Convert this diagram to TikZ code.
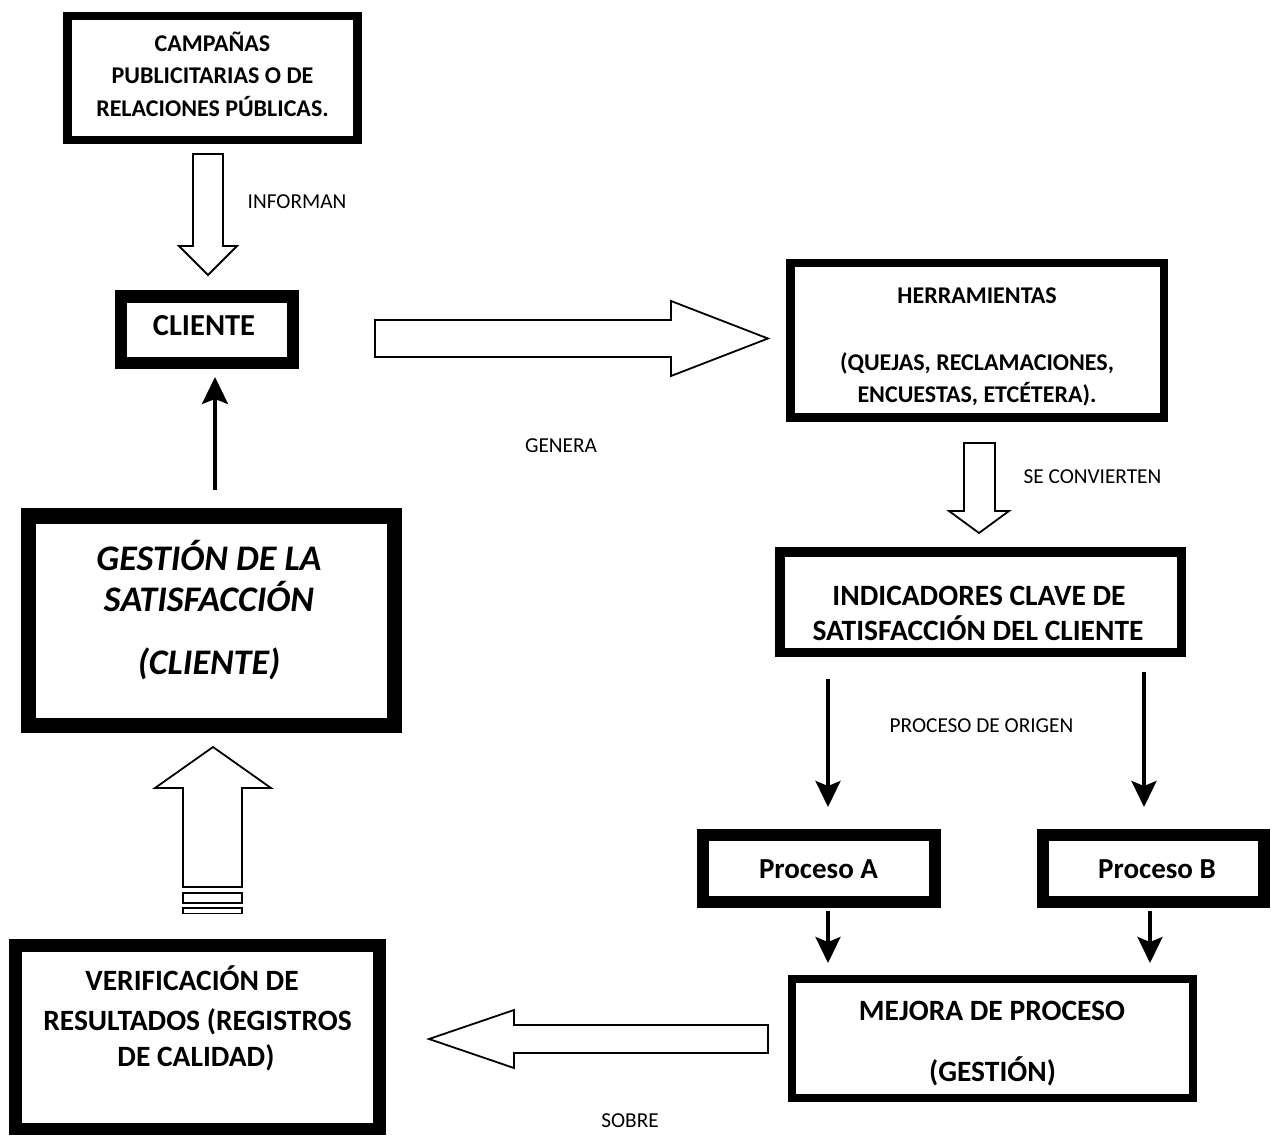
\documentclass[tikz,border=0pt]{standalone}
\usepackage{fontspec}
\setmainfont{Carlito}
\usetikzlibrary{arrows.meta}
\begin{document}
\begin{tikzpicture}[x=1pt,y=-1pt,
  box/.style={draw, rectangle, inner sep=0pt, outer sep=0pt},
  tsmall/.style={anchor=base, inner sep=0pt, font=\fontsize{24}{24}\selectfont\bfseries},
  tbig/.style={anchor=base, inner sep=0pt, font=\fontsize{29.5}{29.5}\selectfont\bfseries},
  tproc/.style={anchor=base, inner sep=0pt, font=\fontsize{29}{29}\selectfont\bfseries},
  tital/.style={anchor=base, inner sep=0pt, font=\fontsize{36}{36}\selectfont\bfseries\itshape},
  lbl/.style={anchor=base, inner sep=0pt, font=\fontsize{21.3}{21.3}\selectfont},
  blockarr/.style={draw, line width=1.8pt, fill=white, line join=miter},
  thinarr/.style={line width=3.4pt, -{Stealth[length=27pt,width=26pt,inset=5pt]}},
  procarr/.style={line width=3.3pt, -{Stealth[length=26pt,width=25pt,inset=5pt]}}
]
\useasboundingbox (0,0) rectangle (1271,1137);

% ---------- boxes ----------
\node[box, line width=8.5pt, minimum width=290pt, minimum height=124pt] (camp) at (212.5,78) {};
\node[box, line width=12.5pt, minimum width=172pt, minimum height=66.5pt] (cliente) at (207,329.75) {};
\node[box, line width=15.5pt, minimum width=366pt, minimum height=209.5pt] (gestion) at (211.5,620.75) {};
\node[box, line width=8.5pt, minimum width=373.5pt, minimum height=154.5pt] (herr) at (977.25,340.25) {};
\node[box, line width=9.5pt, minimum width=401.5pt, minimum height=100.5pt] (ind) at (980.75,602.25) {};
\node[box, line width=12pt, minimum width=232pt, minimum height=67pt] (pa) at (819,868.5) {};
\node[box, line width=11.5pt, minimum width=221pt, minimum height=67pt] (pb) at (1153.5,868.5) {};
\node[box, line width=8pt, minimum width=401pt, minimum height=119.5pt] (mejora) at (992.5,1038.25) {};
\node[box, line width=12.5pt, minimum width=364pt, minimum height=183.5pt] (verif) at (197.5,1037.25) {};

% ---------- box texts ----------
\node[tsmall] (camp1) at (212.5,52) {CAMPAÑAS};
\node[tsmall] (camp2) at (212.5,84) {PUBLICITARIAS O DE};
\node[tsmall] (camp3) at (212.5,117) {RELACIONES PÚBLICAS.};

\node[tbig, font=\fontsize{30.5}{30.5}\selectfont\bfseries] (cli1) at (204,335) {CLIENTE};

\node[tital] (ges1) at (209,570) {GESTIÓN DE LA};
\node[tital] (ges2) at (209,611) {SATISFACCIÓN};
\node[tital] (ges3) at (209,674) {(CLIENTE)};

\node[tsmall] (her1) at (977,303) {HERRAMIENTAS};
\node[tsmall] (her2) at (977,370) {(QUEJAS, RECLAMACIONES,};
\node[tsmall] (her3) at (977,402) {ENCUESTAS, ETCÉTERA).};

\node[tbig] (ind1) at (979,605) {INDICADORES CLAVE DE};
\node[tbig] (ind2) at (978,640) {SATISFACCIÓN DEL CLIENTE};

\node[tproc] (pa1) at (818.5,878) {Proceso A};
\node[tproc] (pb1) at (1157,878) {Proceso B};

\node[tbig] (mej1) at (992,1020) {MEJORA DE PROCESO};
\node[tbig] (mej2) at (992.5,1081) {(GESTIÓN)};

\node[tbig] (ver1) at (192,990) {VERIFICACIÓN DE};
\node[tbig] (ver2) at (197.5,1030) {RESULTADOS (REGISTROS};
\node[tbig] (ver3) at (196,1066) {DE CALIDAD)};

% ---------- labels ----------
\node[lbl] (linf) at (297,208) {INFORMAN};
\node[lbl] (lgen) at (561,452) {GENERA};
\node[lbl] (lconv) at (1092.5,483) {SE CONVIERTEN};
\node[lbl] (lori) at (981.5,732) {PROCESO DE ORIGEN};
\node[lbl] (lsob) at (630,1127) {SOBRE};

% ---------- block arrows ----------
\draw[blockarr] (193,154) -- (223,154) -- (223,246) -- (237,246) -- (208,275) -- (179,246) -- (193,246) -- cycle;
\draw[blockarr] (375,320) -- (671,320) -- (671,301) -- (768,338.5) -- (671,376) -- (671,357) -- (375,357) -- cycle;
\draw[blockarr] (964,443) -- (995,443) -- (995,511) -- (1009,511) -- (979,533) -- (949,511) -- (964,511) -- cycle;
\draw[blockarr] (183,887) -- (183,788) -- (155,788) -- (213,747) -- (271,788) -- (242,788) -- (242,887) -- cycle;
\draw[blockarr] (183,893) rectangle (242,903);
\draw[blockarr] (183,908) rectangle (242,913.5);
\draw[blockarr] (768,1025) -- (514,1025) -- (514,1010) -- (429,1039) -- (514,1068) -- (514,1053) -- (768,1053) -- cycle;

% ---------- thin arrows ----------
\coordinate (gcS) at (215,490); \coordinate (gcE) at (215,377);
\coordinate (iaS) at (828,679); \coordinate (iaE) at (828,807);
\coordinate (ibS) at (1144,672); \coordinate (ibE) at (1144,807);
\coordinate (amS) at (828,911); \coordinate (amE) at (828,963);
\coordinate (bmS) at (1150,911); \coordinate (bmE) at (1150,963);
\draw[thinarr] (gcS) -- (gcE);
\draw[procarr] (iaS) -- (iaE);
\draw[procarr] (ibS) -- (ibE);
\draw[procarr] (amS) -- (amE);
\draw[procarr] (bmS) -- (bmE);
\end{tikzpicture}
\end{document}
